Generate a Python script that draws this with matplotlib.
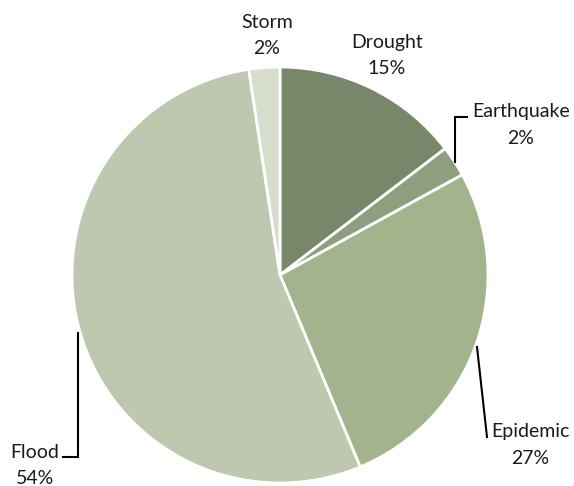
import matplotlib
matplotlib.use('Agg')
import matplotlib.pyplot as plt

# disaster type shares (%)
labels = ['Drought', 'Earthquake', 'Epidemic', 'Flood', 'Storm']
values = [14.6, 2.4, 26.7, 53.9, 2.4]
colors = ['#77886a', '#8e9f7d', '#a2b48b', '#bdc8af', '#d7ddcd']

plt.rcParams['font.family'] = ['Lato', 'DejaVu Sans']

W, H = 574, 486
fig = plt.figure(figsize=(W/100, H/100), dpi=100)
ax = fig.add_axes([0, 0, 1, 1])

cx, cy, r = 280, H-275, 208
ax.pie(values, colors=colors, startangle=90, counterclock=False,
       center=(cx, cy), radius=r, frame=True,
       wedgeprops=dict(edgecolor='white', linewidth=2))
ax.set_xlim(0, W)
ax.set_ylim(0, H)
ax.axis('off')

# label positions in image pixels (x centre, y of first line)
pos = {'Drought': (387, 43), 'Earthquake': (521, 112), 'Epidemic': (530, 432),
       'Flood': (35, 452), 'Storm': (267, 23)}
for lab, v in zip(labels, values):
    x, y = pos[lab]
    ax.text(x, H-y, lab, ha='center', va='center', fontsize=14, color='#1a1a1a')
    ax.text(x, H-y-26, '%d%%' % round(v), ha='center', va='center', fontsize=14, color='#1a1a1a')

# leader lines
ax.plot([455, 455, 467], [H-162, H-117, H-117], color='black', lw=1.5, solid_joinstyle='miter')
ax.plot([477, 487], [H-347, H-437], color='black', lw=1.5)
ax.plot([78, 78, 63], [H-333, H-457, H-457], color='black', lw=1.5, solid_joinstyle='miter')

fig.savefig('out.png', dpi=100)
